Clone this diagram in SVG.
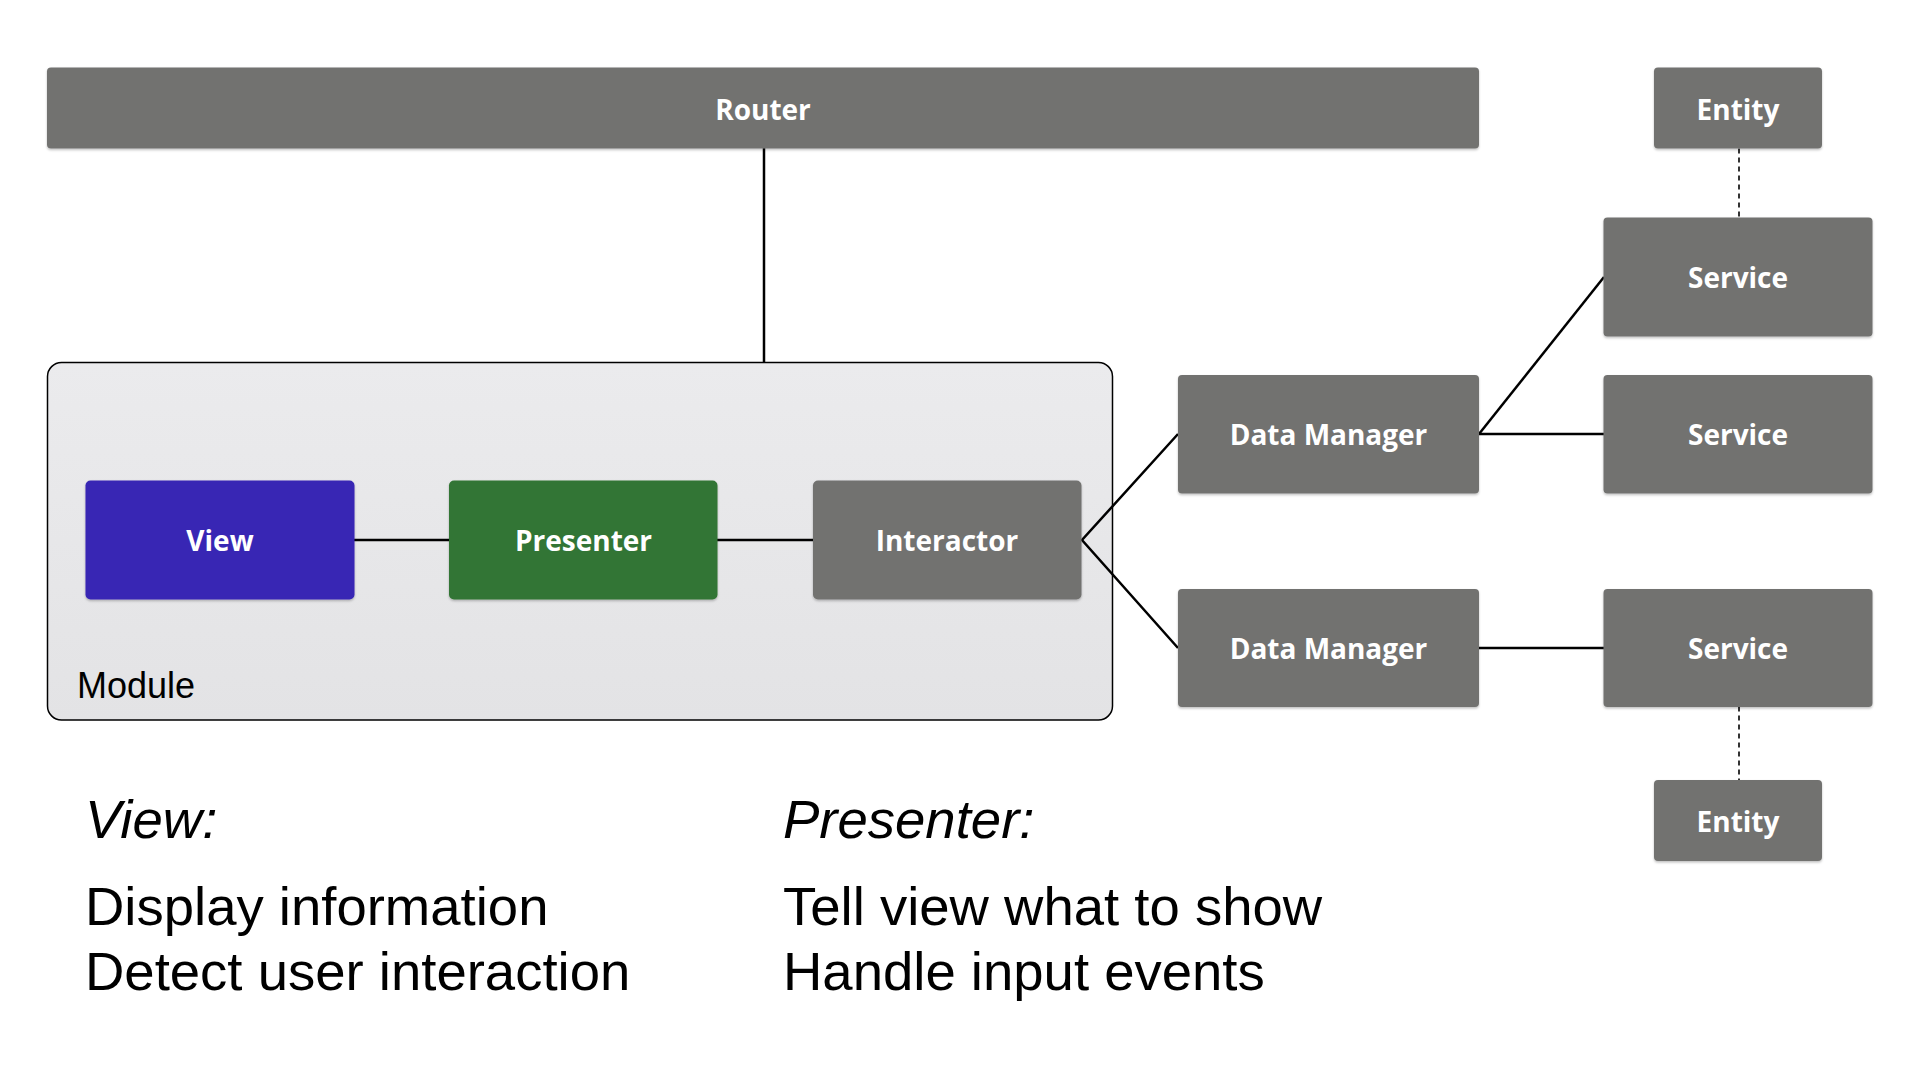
<svg xmlns="http://www.w3.org/2000/svg" width="1920" height="1080" viewBox="0 0 1920 1080">
  <defs>
    <linearGradient id="modGrad" x1="0" y1="0" x2="0" y2="1">
      <stop offset="0" stop-color="#ebebed"/>
      <stop offset="1" stop-color="#e3e3e5"/>
    </linearGradient>
    <filter id="shadow" x="-5%" y="-5%" width="110%" height="120%">
      <feDropShadow dx="0" dy="1.5" stdDeviation="1.2" flood-color="#000" flood-opacity="0.25"/>
    </filter>
  </defs>
  <style>
    .box { fill: #727270; filter: url(#shadow); }
    .view { fill: #3727b4; filter: url(#shadow); }
    .pres { fill: #327534; filter: url(#shadow); }
    .lbl { font-family: "Open Sans", "DejaVu Sans", sans-serif; font-weight: 700; font-size: 28px; fill: #ffffff; text-anchor: middle; }
    .conn { stroke: #000; stroke-width: 2.5; fill: none; }
    .dash { stroke: #333; stroke-width: 2; stroke-dasharray: 5 4; fill: none; }
    .note { font-family: "Liberation Sans", Arial, sans-serif; font-size: 54.5px; fill: #000; }
    .head { font-style: italic; }
  </style>
  <rect width="1920" height="1080" fill="#ffffff"/>

  <g id="module">
    <rect x="47.5" y="362.5" width="1065" height="357.5" rx="14" fill="url(#modGrad)" stroke="#000" stroke-width="1.5"/>
    <text x="77" y="698" font-family="Liberation Sans, Arial, sans-serif" font-size="36" fill="#000">Module</text>
  </g>

  <g id="connectors">
    <line class="conn" x1="764" y1="148" x2="764" y2="362.5"/>
    <line class="conn" x1="354" y1="540" x2="449" y2="540"/>
    <line class="conn" x1="717" y1="540" x2="813" y2="540"/>
    <polyline class="conn" points="1178,434 1082,540 1178,648"/>
    <line class="conn" x1="1479" y1="434" x2="1604" y2="434"/>
    <line class="conn" x1="1479" y1="434" x2="1604" y2="277"/>
    <line class="conn" x1="1479" y1="648" x2="1604" y2="648"/>
    <line class="dash" x1="1739" y1="148.5" x2="1739" y2="217.5"/>
    <line class="dash" x1="1739" y1="706.5" x2="1739" y2="780"/>
  </g>

  <g id="router">
    <rect class="box" x="47" y="67.5" width="1432" height="81" rx="4"/>
    <text class="lbl" x="763" y="119.5">Router</text>
  </g>
  <g id="entity-top">
    <rect class="box" x="1654" y="67.5" width="168" height="81" rx="4"/>
    <text class="lbl" x="1738" y="119.5">Entity</text>
  </g>
  <g id="service-1">
    <rect class="box" x="1603.5" y="217.5" width="269" height="119" rx="4"/>
    <text class="lbl" x="1738" y="288">Service</text>
  </g>
  <g id="service-2">
    <rect class="box" x="1603.5" y="375" width="269" height="118.5" rx="4"/>
    <text class="lbl" x="1738" y="445">Service</text>
  </g>
  <g id="data-manager-1">
    <rect class="box" x="1178" y="375" width="301" height="118.5" rx="4"/>
    <text class="lbl" x="1328.5" y="445">Data Manager</text>
  </g>
  <g id="data-manager-2">
    <rect class="box" x="1178" y="589" width="301" height="118" rx="4"/>
    <text class="lbl" x="1328.5" y="659">Data Manager</text>
  </g>
  <g id="service-3">
    <rect class="box" x="1603.5" y="589" width="269" height="118" rx="4"/>
    <text class="lbl" x="1738" y="659">Service</text>
  </g>
  <g id="entity-bottom">
    <rect class="box" x="1654" y="780" width="168" height="81" rx="4"/>
    <text class="lbl" x="1738" y="832">Entity</text>
  </g>
  <g id="view">
    <rect class="view" x="85.5" y="480.5" width="269" height="119" rx="5"/>
    <text class="lbl" x="220" y="551">View</text>
  </g>
  <g id="presenter">
    <rect class="pres" x="449" y="480.5" width="268.5" height="119" rx="5"/>
    <text class="lbl" x="583.5" y="551">Presenter</text>
  </g>
  <g id="interactor">
    <rect class="box" x="813" y="480.5" width="268.5" height="119" rx="5"/>
    <text class="lbl" x="947" y="551">Interactor</text>
  </g>

  <g id="notes">
    <text class="note head" x="85" y="838">View:</text>
    <text class="note" x="85" y="925">Display information</text>
    <text class="note" x="85" y="990">Detect user interaction</text>
    <text class="note head" x="783" y="838">Presenter:</text>
    <text class="note" x="783" y="925">Tell view what to show</text>
    <text class="note" x="783" y="990">Handle input events</text>
  </g>
</svg>
